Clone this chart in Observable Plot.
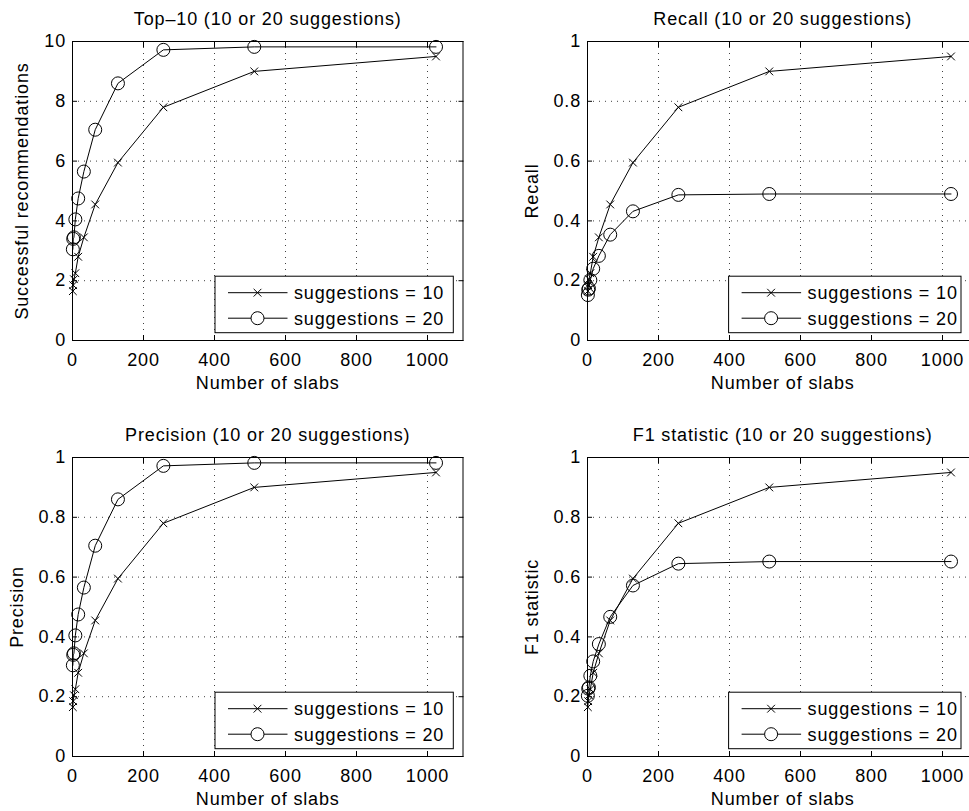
<!DOCTYPE html>
<html><head><meta charset="utf-8">
<script src="https://cdn.jsdelivr.net/npm/d3@7"></script>
<script src="https://cdn.jsdelivr.net/npm/@observablehq/plot@0.6"></script>
<style>
body{margin:0;background:#fff;}
#chart{position:relative;width:969px;height:811px;overflow:hidden;background:#fff;}
#chart > .panel{position:absolute;}
</style></head><body><div id="chart"></div>
<script>
// ---- data ----
const slabs = [1, 2, 4, 8, 16, 32, 64, 128, 256, 512, 1024];
const seriesNames = ["suggestions = 10", "suggestions = 20"];
const top10S10 = [1.65, 1.85, 2.05, 2.25, 2.8, 3.45, 4.55, 5.95, 7.8, 9.0, 9.5];
const top10S20 = [3.05, 3.4, 3.45, 4.05, 4.75, 5.65, 7.05, 8.6, 9.72, 9.82, 9.82];
const recallS10 = [0.165, 0.185, 0.205, 0.225, 0.28, 0.345, 0.455, 0.595, 0.78, 0.9, 0.95];
const recallS20 = [0.152, 0.17, 0.174, 0.202, 0.24, 0.283, 0.354, 0.432, 0.487, 0.49, 0.49];
const precisionS10 = [0.165, 0.185, 0.205, 0.225, 0.28, 0.345, 0.455, 0.595, 0.78, 0.9, 0.95];
const precisionS20 = [0.305, 0.34, 0.345, 0.405, 0.475, 0.565, 0.705, 0.86, 0.972, 0.982, 0.982];
const f1S10 = [0.165, 0.185, 0.205, 0.225, 0.28, 0.345, 0.455, 0.595, 0.78, 0.9, 0.95];
const f1S20 = [0.203, 0.227, 0.231, 0.27, 0.318, 0.376, 0.467, 0.572, 0.645, 0.652, 0.652];
const xTicks = [0, 200, 400, 600, 800, 1000];
const xDomain = [0, 1100];
const top10Ticks = [0, 2, 4, 6, 8, 10];
const rateTicks = [0, 0.2, 0.4, 0.6, 0.8, 1];
const titles = ["Top–10 (10 or 20 suggestions)", "Recall (10 or 20 suggestions)", "Precision (10 or 20 suggestions)", "F1 statistic (10 or 20 suggestions)"];
const yLabels = ["Successful recommendations", "Recall", "Precision", "F1 statistic"];
const xLabel = "Number of slabs";

// ---- layout ----
const W = 484, H = 405, mL = 72, mR = 21.5, mT = 41, mB = 65;
const panels = [
  {title: titles[0], ylabel: yLabels[0], s10: top10S10, s20: top10S20, yDomain: [0, 10], yTicks: top10Ticks, left: 0, top: 0, ylabelDx: -50, legLeft: 143, legW: 238.3},
  {title: titles[1], ylabel: yLabels[1], s10: recallS10, s20: recallS20, yDomain: [0, 1], yTicks: rateTicks, left: 514.7, top: 0, ylabelDx: -55, legLeft: 141.6, legW: 232.4},
  {title: titles[2], ylabel: yLabels[2], s10: precisionS10, s20: precisionS20, yDomain: [0, 1], yTicks: rateTicks, left: 0, top: 415.7, ylabelDx: -55, legLeft: 143, legW: 238.3},
  {title: titles[3], ylabel: yLabels[3], s10: f1S10, s20: f1S20, yDomain: [0, 1], yTicks: rateTicks, left: 514.7, top: 415.7, ylabelDx: -55, legLeft: 141.6, legW: 232.4}
];

const FONT = '"Liberation Sans", Arial, Helvetica, sans-serif';
const gridStyle = {stroke: "#000", strokeOpacity: 0.75, strokeWidth: 1, strokeDasharray: "1,5"};
const rCross = 3.6, rCircle = 6.5;
const container = document.getElementById("chart");

for (const p of panels) {
  const rows = slabs.flatMap((x, i) => [
    {slabs: x, value: p.s10[i], series: seriesNames[0]},
    {slabs: x, value: p.s20[i], series: seriesNames[1]}
  ]);
  const chart = Plot.plot({
    width: W, height: H,
    marginLeft: mL, marginRight: mR, marginTop: mT, marginBottom: mB,
    style: {fontFamily: FONT, fontSize: "18px", letterSpacing: "0.85px", background: "transparent", color: "#000", overflow: "visible"},
    x: {domain: xDomain},
    y: {domain: p.yDomain},
    marks: [
      Plot.gridX(xTicks, gridStyle),
      Plot.gridY(p.yTicks, gridStyle),
      Plot.axisX({ticks: xTicks, tickSize: -5, tickPadding: 17.5, tickFormat: d3.format("d"), label: null}),
      Plot.axisX({anchor: "top", ticks: xTicks, tickSize: -5, tickFormat: () => "", label: null}),
      Plot.axisY({ticks: p.yTicks, tickSize: -5, tickPadding: 11.5, tickFormat: d3.format("~g"), label: null}),
      Plot.axisY({anchor: "right", ticks: p.yTicks, tickSize: -5, tickFormat: () => "", label: null}),
      Plot.frame({stroke: "#000", strokeWidth: 1}),
      Plot.line(rows, {x: "slabs", y: "value", z: "series", stroke: "#000", strokeWidth: 1}),
      Plot.dot(rows.filter(d => d.series === seriesNames[0]), {x: "slabs", y: "value", symbol: "times", r: rCross, stroke: "#000", strokeWidth: 1}),
      Plot.dot(rows.filter(d => d.series === seriesNames[1]), {x: "slabs", y: "value", symbol: "circle", r: rCircle, stroke: "#000", fill: "none", strokeWidth: 1}),
      Plot.text([p.title], {text: d => d, frameAnchor: "top", textAnchor: "middle", dy: -22, lineAnchor: "middle"}),
      Plot.text([p.ylabel], {text: d => d, frameAnchor: "left", textAnchor: "middle", rotate: -90, dx: p.ylabelDx, lineAnchor: "middle"}),
      Plot.text([xLabel], {text: d => d, frameAnchor: "bottom", textAnchor: "middle", dy: 42.7, lineAnchor: "middle"})
    ]
  });
  chart.classList.add("panel");
  chart.style.left = p.left + "px";
  chart.style.top = p.top + "px";
  container.appendChild(chart);

  // legend box (inside the frame, lower right)
  const svg = d3.select(chart);
  const frameBottom = H - mB;
  const legH = 56.5;
  const lx = mL + p.legLeft, ly = frameBottom - 7.3 - legH;
  const g = svg.append("g").attr("class", "legend");
  g.append("rect").attr("x", lx).attr("y", ly).attr("width", p.legW).attr("height", legH)
    .attr("fill", "#fff").attr("stroke", "#000").attr("stroke-width", 1);
  const rowY = [ly + 16.5, ly + 42];
  const symbols = [d3.symbolTimes, d3.symbolCircle];
  const radii = [rCross, rCircle];
  seriesNames.forEach((name, i) => {
    g.append("line").attr("x1", lx + 13).attr("x2", lx + 72.5).attr("y1", rowY[i]).attr("y2", rowY[i])
      .attr("stroke", "#000").attr("stroke-width", 1);
    g.append("path").attr("d", d3.symbol(symbols[i], Math.PI * radii[i] * radii[i])())
      .attr("transform", `translate(${lx + 42.5},${rowY[i]})`)
      .attr("fill", i === 1 ? "#fff" : "none").attr("stroke", "#000").attr("stroke-width", 1);
    g.append("text").attr("x", lx + 79).attr("y", rowY[i]).attr("dy", "0.36em")
      .attr("text-anchor", "start").attr("fill", "#000").text(name);
  });
}
</script>
</body></html>
